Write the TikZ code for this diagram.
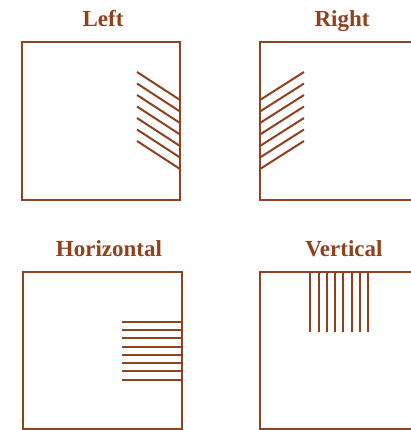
\documentclass[tikz,border=0pt]{standalone}
\usepackage{fontspec}
\setmainfont{Liberation Serif}
\usetikzlibrary{positioning}
\definecolor{rust}{RGB}{142,66,32}

\begin{document}
\begin{tikzpicture}[x=1pt, y=-1pt,
		title/.style={text=rust, font=\bfseries\fontsize{23pt}{27pt}\selectfont, anchor=base, inner sep=0pt},
		panel/.style={draw=rust, line width=2pt},
		hatch/.style={draw=rust, line width=2pt}]
	\useasboundingbox (0,0) rectangle (411,430);
	\clip (0,0) rectangle (411,430);
	% titles
	\node[title] (left)  at (103,26.5)  {Left};
	\node[title] (right) at (342,26.5)  {Right};
	\node[title] (horiz) at (109,256.5) {Horizontal};
	\node[title] (vert)  at (344,256.5) {Vertical};
	% panels
	\draw[panel] (22,42)  rectangle (180,200);
	\draw[panel] (260,42) rectangle (430,200);
	\draw[panel] (23,272) rectangle (182,429);
	\draw[panel] (260,272) rectangle (430,429);
	% hatching
	\foreach \k in {0,...,6} {
		\draw[hatch] (137,72+11.5*\k) -- (180,100+11.5*\k);
		\draw[hatch] (260,100+11.5*\k) -- (304,72+11.5*\k);
	}
	\foreach \k in {0,...,7} {
		\draw[hatch] (122,321.7+8.29*\k) -- (182,321.7+8.29*\k);
		\draw[hatch] (310.3+8.29*\k,272) -- (310.3+8.29*\k,331.7);
	}
\end{tikzpicture}
\end{document}
